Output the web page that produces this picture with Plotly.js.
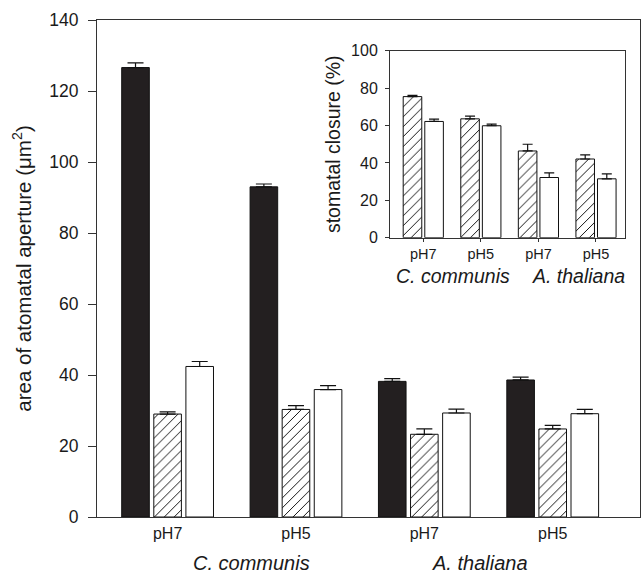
<!DOCTYPE html>
<html><head><meta charset="utf-8">
<script src="https://cdn.plot.ly/plotly-3.0.1.min.js"></script>
<style>html,body{margin:0;padding:0;background:#fff}</style>
</head><body>
<div id="chart" style="width:644px;height:574px"></div>
<script>
// Main chart data
var groupPos = [0, 1, 2, 3];
var groupLabels = ['pH7', 'pH5', 'pH7', 'pH5'];
var mainBlack = [126.6, 93.0, 38.2, 38.6];
var mainBlackErr = [1.3, 0.8, 0.8, 0.8];
var mainHatched = [29.0, 30.3, 23.3, 24.8];
var mainHatchedErr = [0.6, 1.1, 1.5, 1.0];
var mainWhite = [42.4, 35.9, 29.3, 29.1];
var mainWhiteErr = [1.4, 1.1, 1.1, 1.2];
// Inset data
var insetHatched = [75.5, 63.6, 46.4, 42.1];
var insetHatchedErr = [0.7, 1.4, 3.6, 2.2];
var insetWhite = [62.2, 59.9, 32.2, 31.5];
var insetWhiteErr = [1.2, 0.9, 2.5, 2.6];
var species = ['C. communis', 'A. thaliana'];

var FONT = 'Liberation Sans, Arial, sans-serif';
var LINE = '#333333';
var DARK = '#231f20';
var TXT = '#1a1a1a';

function bar(y, err, xa, ya, fill, hatched, capw) {
  var zeros = y.map(function(){return 0;});
  var m = {color: fill, line: {color: '#111', width: 1}};
  if (hatched) m.pattern = {shape: '/', fgcolor: '#111', bgcolor: '#fff', size: 7, solidity: 0.14, fillmode: 'replace'};
  return {type: 'bar', x: groupPos, y: y, xaxis: xa, yaxis: ya, marker: m,
    error_y: {type: 'data', array: err, arrayminus: zeros, symmetric: false, visible: true,
              color: '#111', thickness: 1.2, width: capw},
    showlegend: false, hoverinfo: 'skip'};
}

var data = [
  bar(mainBlack, mainBlackErr, 'x', 'y', DARK, false, 8),
  bar(mainHatched, mainHatchedErr, 'x', 'y', '#fff', true, 8),
  bar(mainWhite, mainWhiteErr, 'x', 'y', '#fff', false, 8),
  bar(insetHatched, insetHatchedErr, 'x2', 'y2', '#fff', true, 5),
  bar(insetWhite, insetWhiteErr, 'x2', 'y2', '#fff', false, 5)
];

var layout = {
  width: 644, height: 574,
  margin: {l: 97, r: 4, t: 20, b: 57},
  paper_bgcolor: '#fff', plot_bgcolor: 'rgba(0,0,0,0)',
  font: {family: FONT, color: TXT},
  barmode: 'group', bargap: 0.25, bargroupgap: 0.14,
  showlegend: false,
  xaxis: {domain: [0, 1], range: [-0.55, 3.68], tickmode: 'array', tickvals: groupPos, ticktext: groupLabels,
    ticks: '', showgrid: false, zeroline: false, showline: true, mirror: true, linecolor: LINE, linewidth: 1,
    ticklabelstandoff: 2,
    tickfont: {size: 16, family: FONT, color: TXT}},
  yaxis: {domain: [0, 1], range: [0, 140], dtick: 20, ticks: 'outside', ticklen: 8, tickcolor: LINE,
    showgrid: false, zeroline: false, showline: true, mirror: true, linecolor: LINE, linewidth: 1,
    ticklabelstandoff: 6,
    tickfont: {size: 17.5, family: FONT, color: TXT},
    title: {text: 'area of atomatal aperture (\u03bcm<sup>2</sup>)', font: {size: 20.5, family: FONT, color: TXT}, standoff: 12}},
  xaxis2: {domain: [0.5396, 0.9724], anchor: 'y2', range: [-0.578, 3.504], tickmode: 'array', tickvals: groupPos, ticktext: groupLabels,
    ticks: 'outside', ticklen: 3, tickcolor: LINE, showgrid: false, zeroline: false, showline: true, mirror: true,
    linecolor: LINE, linewidth: 1, tickfont: {size: 14.5, family: FONT, color: TXT}},
  yaxis2: {domain: [0.562, 0.938], anchor: 'x2', range: [0, 100], dtick: 20, ticks: 'outside', ticklen: 4, tickcolor: LINE,
    showgrid: false, zeroline: false, showline: true, mirror: true, linecolor: LINE, linewidth: 1,
    ticklabelstandoff: 4,
    tickfont: {size: 16, family: FONT, color: TXT},
    title: {text: 'stomatal closure (%)', font: {size: 19.5, family: FONT, color: TXT}, standoff: 5}},
  annotations: [
    {xref: 'x', yref: 'paper', x: 0.65, y: -0.093, text: '<i>' + species[0] + '</i>', showarrow: false,
      font: {size: 20, family: FONT, color: TXT}, xanchor: 'center', yanchor: 'middle'},
    {xref: 'x', yref: 'paper', x: 2.434, y: -0.093, text: '<i>' + species[1] + '</i>', showarrow: false,
      font: {size: 20, family: FONT, color: TXT}, xanchor: 'center', yanchor: 'middle'},
    {xref: 'x2', yref: 'paper', x: 0.52, y: 0.4842, text: '<i>' + species[0] + '</i>', showarrow: false,
      font: {size: 19.5, family: FONT, color: TXT}, xanchor: 'center', yanchor: 'middle'},
    {xref: 'x2', yref: 'paper', x: 2.70, y: 0.4842, text: '<i>' + species[1] + '</i>', showarrow: false,
      font: {size: 19.5, family: FONT, color: TXT}, xanchor: 'center', yanchor: 'middle'}
  ]
};

Plotly.newPlot('chart', data, layout, {displayModeBar: false, staticPlot: true});
</script>
</body></html>
